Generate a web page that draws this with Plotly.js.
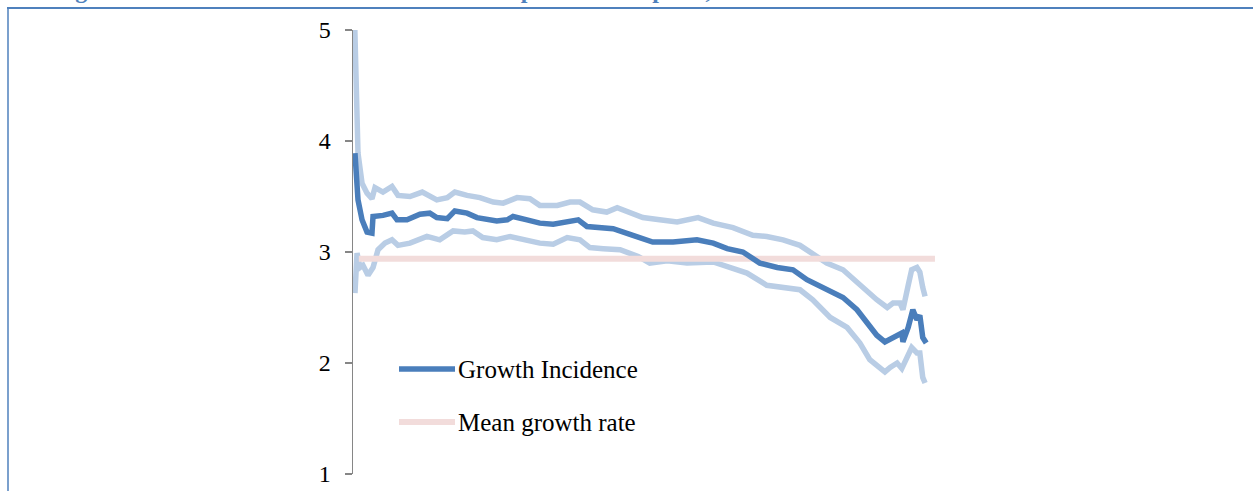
<!DOCTYPE html>
<html>
<head>
<meta charset="utf-8">
<script src="https://cdn.plot.ly/plotly-3.0.1.min.js"></script>
<style>
  html, body { margin: 0; padding: 0; background: #ffffff; }
  #chart { width: 1253px; height: 491px; }
</style>
</head>
<body>
<div id="chart"></div>
<script>
// Growth incidence curve by percentile of per capita consumption,
// with upper/lower confidence bounds and the mean growth rate.

const gicPct = [0.34, 0.86, 1.55, 2.41, 3.26, 3.44, 5.15, 6.70, 7.56, 9.28, 11.5, 13.2, 14.4, 16.2, 17.5, 19.6, 21.3, 23.0, 24.7, 26.5, 27.5, 29.9, 32.1, 34.4, 36.8, 38.7, 40.2, 42.4, 44.7, 48.1, 51.5, 55.0, 59.1, 61.9, 64.3, 67.0, 69.9, 72.9, 75.6, 78.0, 81.4, 84.2, 86.6, 88.3, 90.0, 91.4, 92.8, 94.3, 94.5, 95.4, 96.2, 96.9, 97.4, 97.9, 98.5];
const gicVal = [3.89, 3.47, 3.29, 3.18, 3.17, 3.32, 3.33, 3.35, 3.29, 3.29, 3.34, 3.35, 3.31, 3.30, 3.37, 3.35, 3.31, 3.29, 3.28, 3.29, 3.32, 3.29, 3.26, 3.25, 3.27, 3.29, 3.23, 3.22, 3.21, 3.15, 3.09, 3.09, 3.11, 3.08, 3.03, 3.00, 2.90, 2.86, 2.84, 2.75, 2.66, 2.59, 2.48, 2.36, 2.25, 2.19, 2.23, 2.27, 2.19, 2.32, 2.48, 2.39, 2.43, 2.23, 2.18];

const upperPct = [0.17, 0.69, 0.86, 1.55, 2.41, 3.26, 3.78, 5.15, 6.70, 7.73, 9.79, 11.9, 14.4, 16.2, 17.5, 19.6, 21.8, 24.1, 25.8, 28.2, 30.4, 32.1, 35.1, 37.3, 39.0, 41.2, 43.6, 45.4, 47.6, 49.8, 52.7, 55.7, 59.3, 61.9, 65.3, 68.7, 71.1, 73.9, 76.8, 79.0, 81.4, 84.2, 87.6, 90.0, 91.8, 92.8, 94.0, 94.5, 95.4, 96.0, 96.9, 97.4, 97.9, 98.3];
const upperVal = [5.30, 4.49, 3.89, 3.62, 3.53, 3.48, 3.58, 3.54, 3.59, 3.51, 3.50, 3.54, 3.47, 3.49, 3.54, 3.51, 3.49, 3.45, 3.44, 3.49, 3.48, 3.42, 3.42, 3.45, 3.45, 3.38, 3.36, 3.40, 3.36, 3.31, 3.29, 3.27, 3.31, 3.26, 3.22, 3.15, 3.14, 3.11, 3.06, 2.99, 2.90, 2.84, 2.68, 2.57, 2.50, 2.54, 2.54, 2.48, 2.70, 2.84, 2.86, 2.82, 2.68, 2.60];

const lowerPct = [0.34, 0.69, 1.20, 1.72, 2.58, 3.44, 4.30, 5.50, 6.70, 7.73, 9.79, 12.7, 14.9, 17.2, 19.2, 20.6, 22.3, 24.7, 27.0, 29.2, 32.1, 34.4, 36.8, 39.0, 40.7, 43.0, 45.9, 49.0, 51.0, 54.0, 57.4, 61.9, 64.8, 67.7, 71.1, 74.6, 76.8, 79.0, 82.0, 84.9, 87.1, 88.8, 90.5, 91.4, 92.3, 93.5, 94.3, 95.2, 96.0, 96.9, 97.4, 97.9, 98.3];
const lowerVal = [2.63, 2.99, 2.86, 2.88, 2.79, 2.86, 3.02, 3.08, 3.11, 3.06, 3.08, 3.14, 3.11, 3.19, 3.18, 3.19, 3.13, 3.11, 3.14, 3.11, 3.08, 3.07, 3.13, 3.11, 3.04, 3.03, 3.02, 2.96, 2.90, 2.92, 2.90, 2.91, 2.86, 2.81, 2.70, 2.68, 2.66, 2.57, 2.41, 2.32, 2.18, 2.03, 1.95, 1.92, 1.96, 2.00, 1.95, 2.05, 2.14, 2.09, 2.09, 1.87, 1.82];

const meanPct = [1, 100];
const meanRate = 2.94;

const yTicks = [1, 2, 3, 4, 5];
const seriesNames = ["Growth Incidence", "Mean growth rate"];
const captionText = "Figure 4: Growth Incidence Curve for Per Capita Consumption, 1998–2008";

// Plot box in page pixels; used to place frame, caption and key in paper units.
const W = 1253, H = 491;
const plotL = 353, plotR = 953, plotT = 30, plotB = 474;
const px = x => (x - plotL) / (plotR - plotL);
const py = y => (plotB - y) / (plotB - plotT);

const darkBlue = "#4a7ebb";
const lightBlue = "#b9cde5";
const pink = "#f2dcdb";
const frameBlue = "#4f81bd";
const serif = "Liberation Serif, Times New Roman, serif";

const traces = [
  { x: lowerPct, y: lowerVal, name: "Lower bound", mode: "lines",
    line: { color: lightBlue, width: 5.5 }, showlegend: false, hoverinfo: "skip" },
  { x: upperPct, y: upperVal, name: "Upper bound", mode: "lines",
    line: { color: lightBlue, width: 5.5 }, showlegend: false, hoverinfo: "skip" },
  { x: meanPct, y: meanPct.map(() => meanRate), name: seriesNames[1], mode: "lines",
    line: { color: pink, width: 6 }, showlegend: false },
  { x: gicPct, y: gicVal, name: seriesNames[0], mode: "lines",
    line: { color: darkBlue, width: 5.5 }, showlegend: false }
];

const layout = {
  width: W, height: H,
  margin: { l: plotL, r: W - plotR, t: plotT, b: H - plotB, pad: 0 },
  paper_bgcolor: "#ffffff",
  plot_bgcolor: "rgba(0,0,0,0)",
  showlegend: false,
  xaxis: {
    range: [0, 103.1], visible: false, fixedrange: true
  },
  yaxis: {
    range: [1, 5], tickvals: yTicks, ticktext: yTicks.map(String),
    ticks: "outside", ticklen: 7, tickwidth: 1.5, tickcolor: "#868686",
    showline: true, linecolor: "#868686", linewidth: 1.5,
    showgrid: false, zeroline: false, fixedrange: true,
    ticklabelstandoff: 9,
    tickfont: { family: serif, size: 24, color: "#000000" }
  },
  shapes: [
    // outer frame: top rule and left rule
    { type: "line", xref: "paper", yref: "paper", x0: px(7), x1: px(W + 5), y0: py(8), y1: py(8),
      line: { color: frameBlue, width: 2 } },
    { type: "line", xref: "paper", yref: "paper", x0: px(8), x1: px(8), y0: py(8), y1: py(H + 5),
      line: { color: frameBlue, width: 1.5 } },
    // key samples
    { type: "line", xref: "paper", yref: "paper", x0: px(399), x1: px(455), y0: py(369), y1: py(369),
      line: { color: darkBlue, width: 5.5 } },
    { type: "line", xref: "paper", yref: "paper", x0: px(399), x1: px(455), y0: py(422), y1: py(422),
      line: { color: pink, width: 6 } }
  ],
  annotations: [
    { text: captionText, xref: "paper", yref: "paper", x: px(52), y: py(5),
      xanchor: "left", yanchor: "bottom", showarrow: false,
      font: { family: serif, size: 24, color: frameBlue, weight: "bold" } },
    { text: seriesNames[0], xref: "paper", yref: "paper", x: px(456), y: py(369),
      xanchor: "left", yanchor: "middle", showarrow: false,
      font: { family: serif, size: 25, color: "#000000" } },
    { text: seriesNames[1], xref: "paper", yref: "paper", x: px(456), y: py(422),
      xanchor: "left", yanchor: "middle", showarrow: false,
      font: { family: serif, size: 25, color: "#000000" } }
  ]
};

Plotly.newPlot("chart", traces, layout, { staticPlot: true, displayModeBar: false });
</script>
</body>
</html>
